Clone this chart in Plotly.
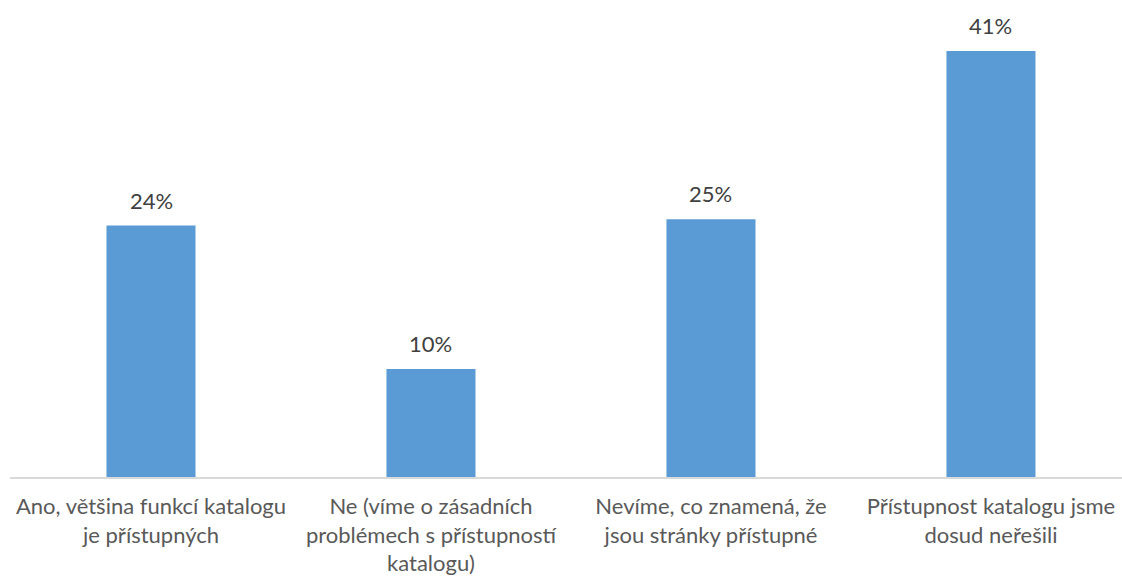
import plotly.graph_objects as go

categories = [
    "Ano, většina funkcí katalogu<br>je přístupných",
    "Ne (víme o zásadních<br>problémech s přístupností<br>katalogu)",
    "Nevíme, co znamená, že<br>jsou stránky přístupné",
    "Přístupnost katalogu jsme<br>dosud neřešili",
]
values = [24.2, 10.4, 24.8, 41.0]
labels = ["24%", "10%", "25%", "41%"]

FONT = "Lato"
fig = go.Figure()
fig.add_trace(go.Bar(
    x=categories, y=values, marker=dict(color="#5B9BD5", line=dict(width=0)),
    width=0.318, hoverinfo="skip",
))
for c, v, t in zip(categories, values, labels):
    fig.add_annotation(x=c, y=v, text=t, showarrow=False, yanchor="bottom",
                       yshift=10, font=dict(family=FONT, size=22, color="#404040"))

fig.update_layout(
    width=1122, height=578,
    margin=dict(l=10, r=0, t=0, b=101),
    plot_bgcolor="white", paper_bgcolor="white",
    showlegend=False,
    xaxis=dict(range=[-0.5036, 3.468], showline=True, linecolor="#D9D9D9", linewidth=1.5,
               ticks="", showgrid=False, ticklabelstandoff=9,
               tickfont=dict(family=FONT, size=22, color="#595959")),
    yaxis=dict(range=[0, 45.9], visible=False, showgrid=False, zeroline=False),
)
fig.write_html("out.html")
